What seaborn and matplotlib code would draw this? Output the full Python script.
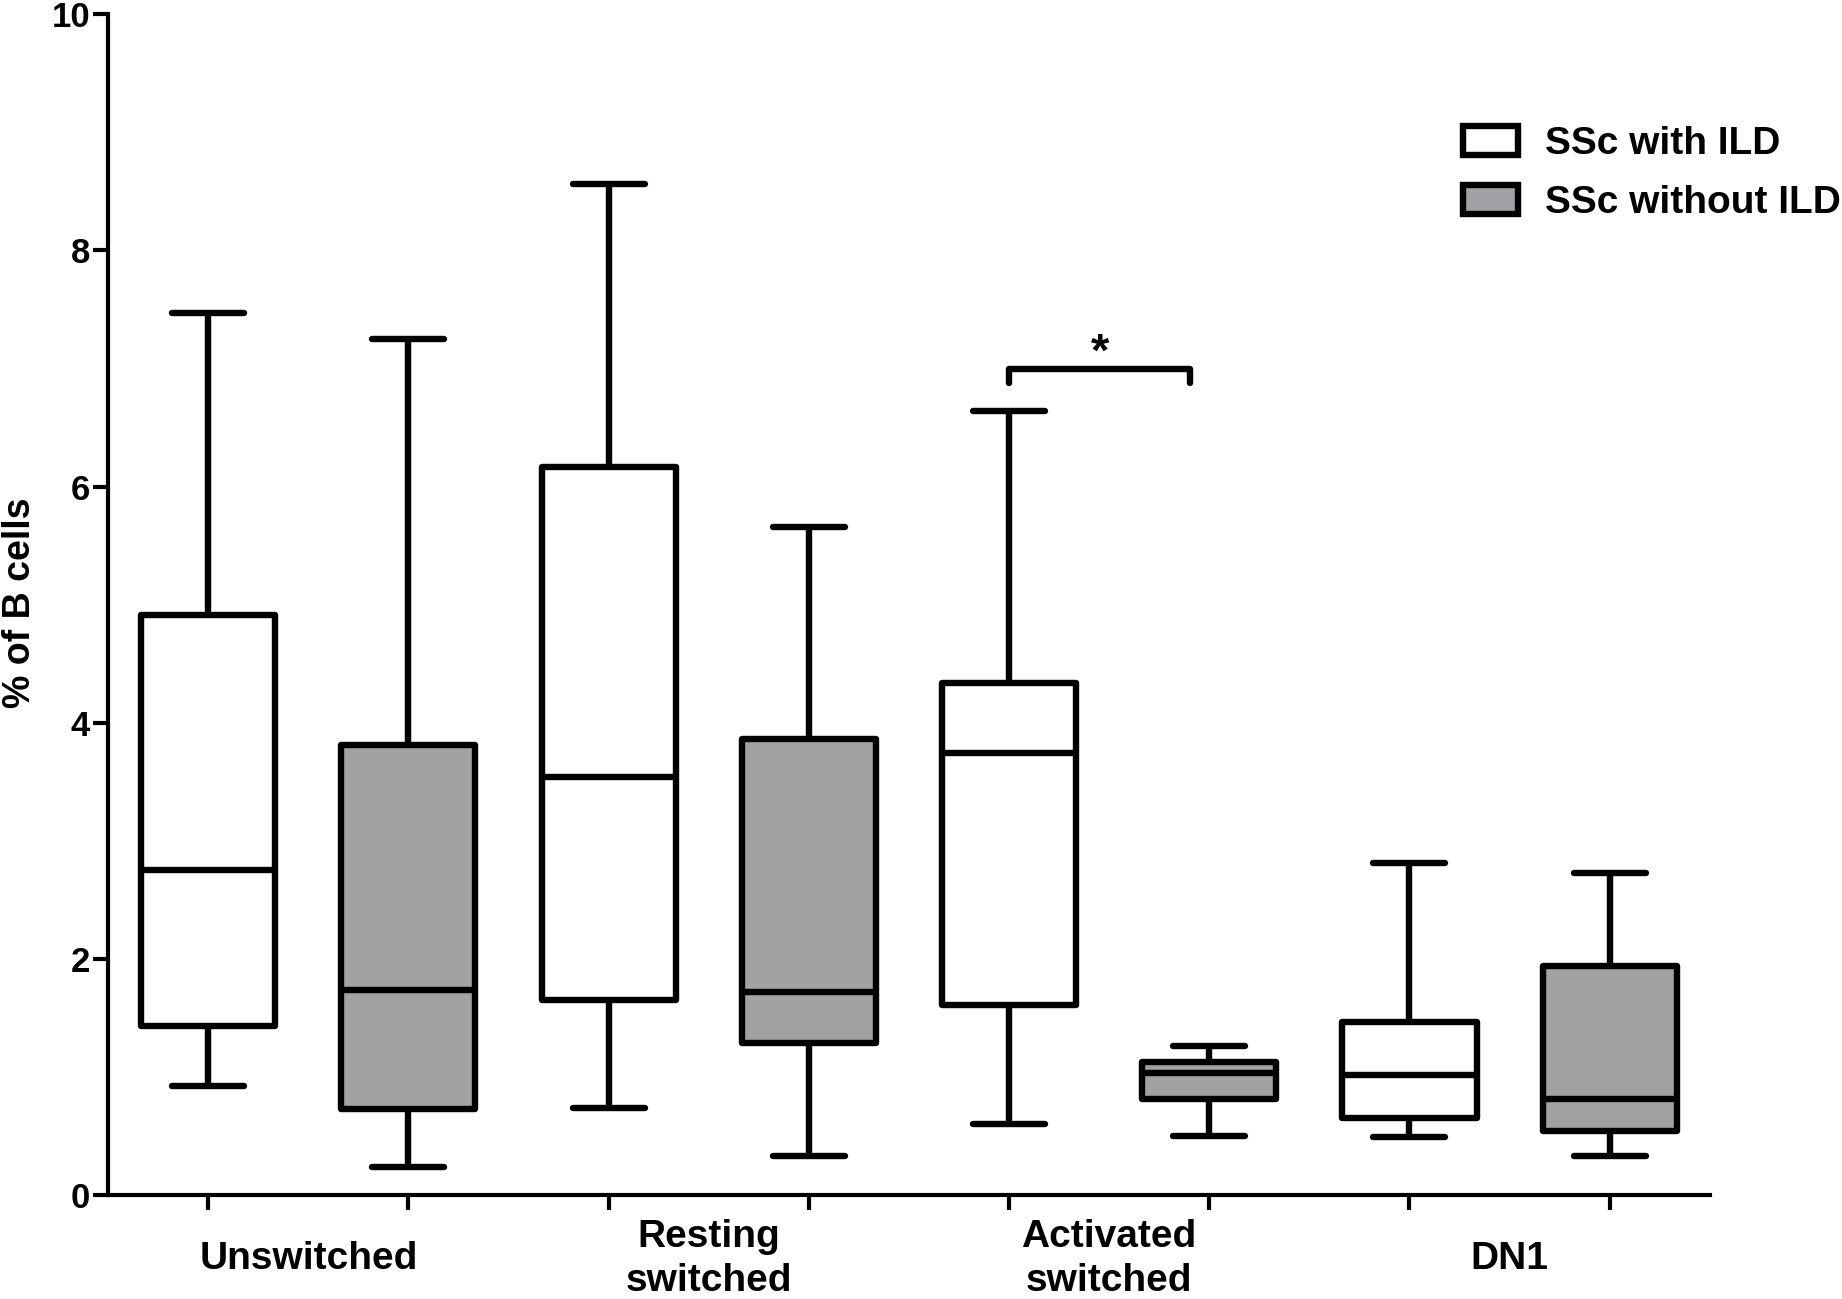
import numpy as np
import pandas as pd
import matplotlib
matplotlib.use("Agg")
import matplotlib.pyplot as plt
import seaborn as sns
from matplotlib.patches import Patch
import warnings
warnings.filterwarnings("ignore")

cells = ["Unswitched", "Resting\nswitched", "Activated\nswitched", "DN1"]
groups = ["SSc with ILD", "SSc without ILD"]

# five-number summaries: min, Q1, median, Q3, max
with_ild = [
    [0.92, 1.43, 2.75, 4.91, 7.47],
    [0.74, 1.65, 3.54, 6.17, 8.56],
    [0.60, 1.61, 3.74, 4.34, 6.64],
    [0.49, 0.65, 1.02, 1.47, 2.81],
]
without_ild = [
    [0.24, 0.73, 1.74, 3.81, 7.25],
    [0.33, 1.29, 1.72, 3.86, 5.66],
    [0.50, 0.81, 1.03, 1.13, 1.26],
    [0.33, 0.54, 0.81, 1.94, 2.73],
]
yticks = [0, 2, 4, 6, 8, 10]
sig_level = 7.0

rows = []
for grp, summ in zip(groups, [with_ild, without_ild]):
    for cell, vals in zip(cells, summ):
        for v in vals:
            rows.append({"cell": cell, "group": grp, "value": v})
df = pd.DataFrame(rows)

sns.set_style("ticks")
plt.rcParams["font.family"] = ["Liberation Sans", "DejaVu Sans"]
plt.rcParams["font.weight"] = "bold"
for k in ["text.color", "axes.labelcolor", "xtick.color", "ytick.color", "axes.edgecolor"]:
    plt.rcParams[k] = "black"

fig = plt.figure(figsize=(18.42, 12.99), dpi=100)
ax = fig.add_axes([0.0587, 0.080, 0.8695, 0.909])

LW = 4.6
GRAY = "#a2a1a6"
sns.boxplot(data=df, x="cell", y="value", hue="group", order=cells, hue_order=groups,
            palette={"SSc with ILD": "white", "SSc without ILD": GRAY},
            width=1.0, gap=0.33, whis=(0, 100), showfliers=False,
            linewidth=LW, linecolor="black", legend=False, ax=ax,
            capwidths=0.18,
            capprops=dict(solid_capstyle="round"),
            boxprops=dict(joinstyle="round"))

ax.set_xlim(-0.5, len(cells) - 0.5)
ax.set_ylim(0, 10)
sns.despine(ax=ax)
for s in ["left", "bottom"]:
    ax.spines[s].set_linewidth(3.0)
    ax.spines[s].set_color("black")

ax.set_yticks(yticks)
ax.set_yticklabels([str(t) for t in yticks], fontsize=25, fontweight="bold")
ax.tick_params(axis="y", length=11, width=3.0, pad=2)

pos = np.arange(len(cells))
ax.set_xticks(np.concatenate([pos - 0.25, pos + 0.25]))
ax.set_xticklabels([])
ax.tick_params(axis="x", which="major", length=11, width=3.0)
ax.set_xticks(pos, minor=True)
ax.set_xticklabels(cells, minor=True, fontsize=28, fontweight="bold",
                   linespacing=1.3, va="center")
ax.tick_params(axis="x", which="minor", length=0, pad=46)

ax.set_xlabel("")
ax.set_ylabel("% of B cells", fontsize=27, fontweight="bold")
ax.yaxis.set_label_coords(-0.0437, 0.502)

# significance bracket between the activated switched boxes
i = cells.index("Activated\nswitched")
x0, x1 = i - 0.25, i + 0.203
ax.plot([x0, x0, x1, x1], [sig_level - 0.12, sig_level, sig_level, sig_level - 0.12],
        color="black", lw=LW, solid_joinstyle="round", solid_capstyle="round",
        clip_on=False)
ax.text((x0 + x1) / 2, sig_level - 0.06, "*", ha="center", va="bottom",
        fontsize=34, fontweight="bold")

handles = [Patch(facecolor="white", edgecolor="black", linewidth=LW, joinstyle="round"),
           Patch(facecolor=GRAY, edgecolor="black", linewidth=LW, joinstyle="round")]
fig.legend(handles, groups, loc="upper left", bbox_to_anchor=(0.7836, 0.918),
           frameon=False, handlelength=1.42, handleheight=0.78,
           handletextpad=0.7, labelspacing=0.59, borderpad=0,
           prop={"weight": "bold", "size": 28})

fig.savefig("out.png", dpi=100)
